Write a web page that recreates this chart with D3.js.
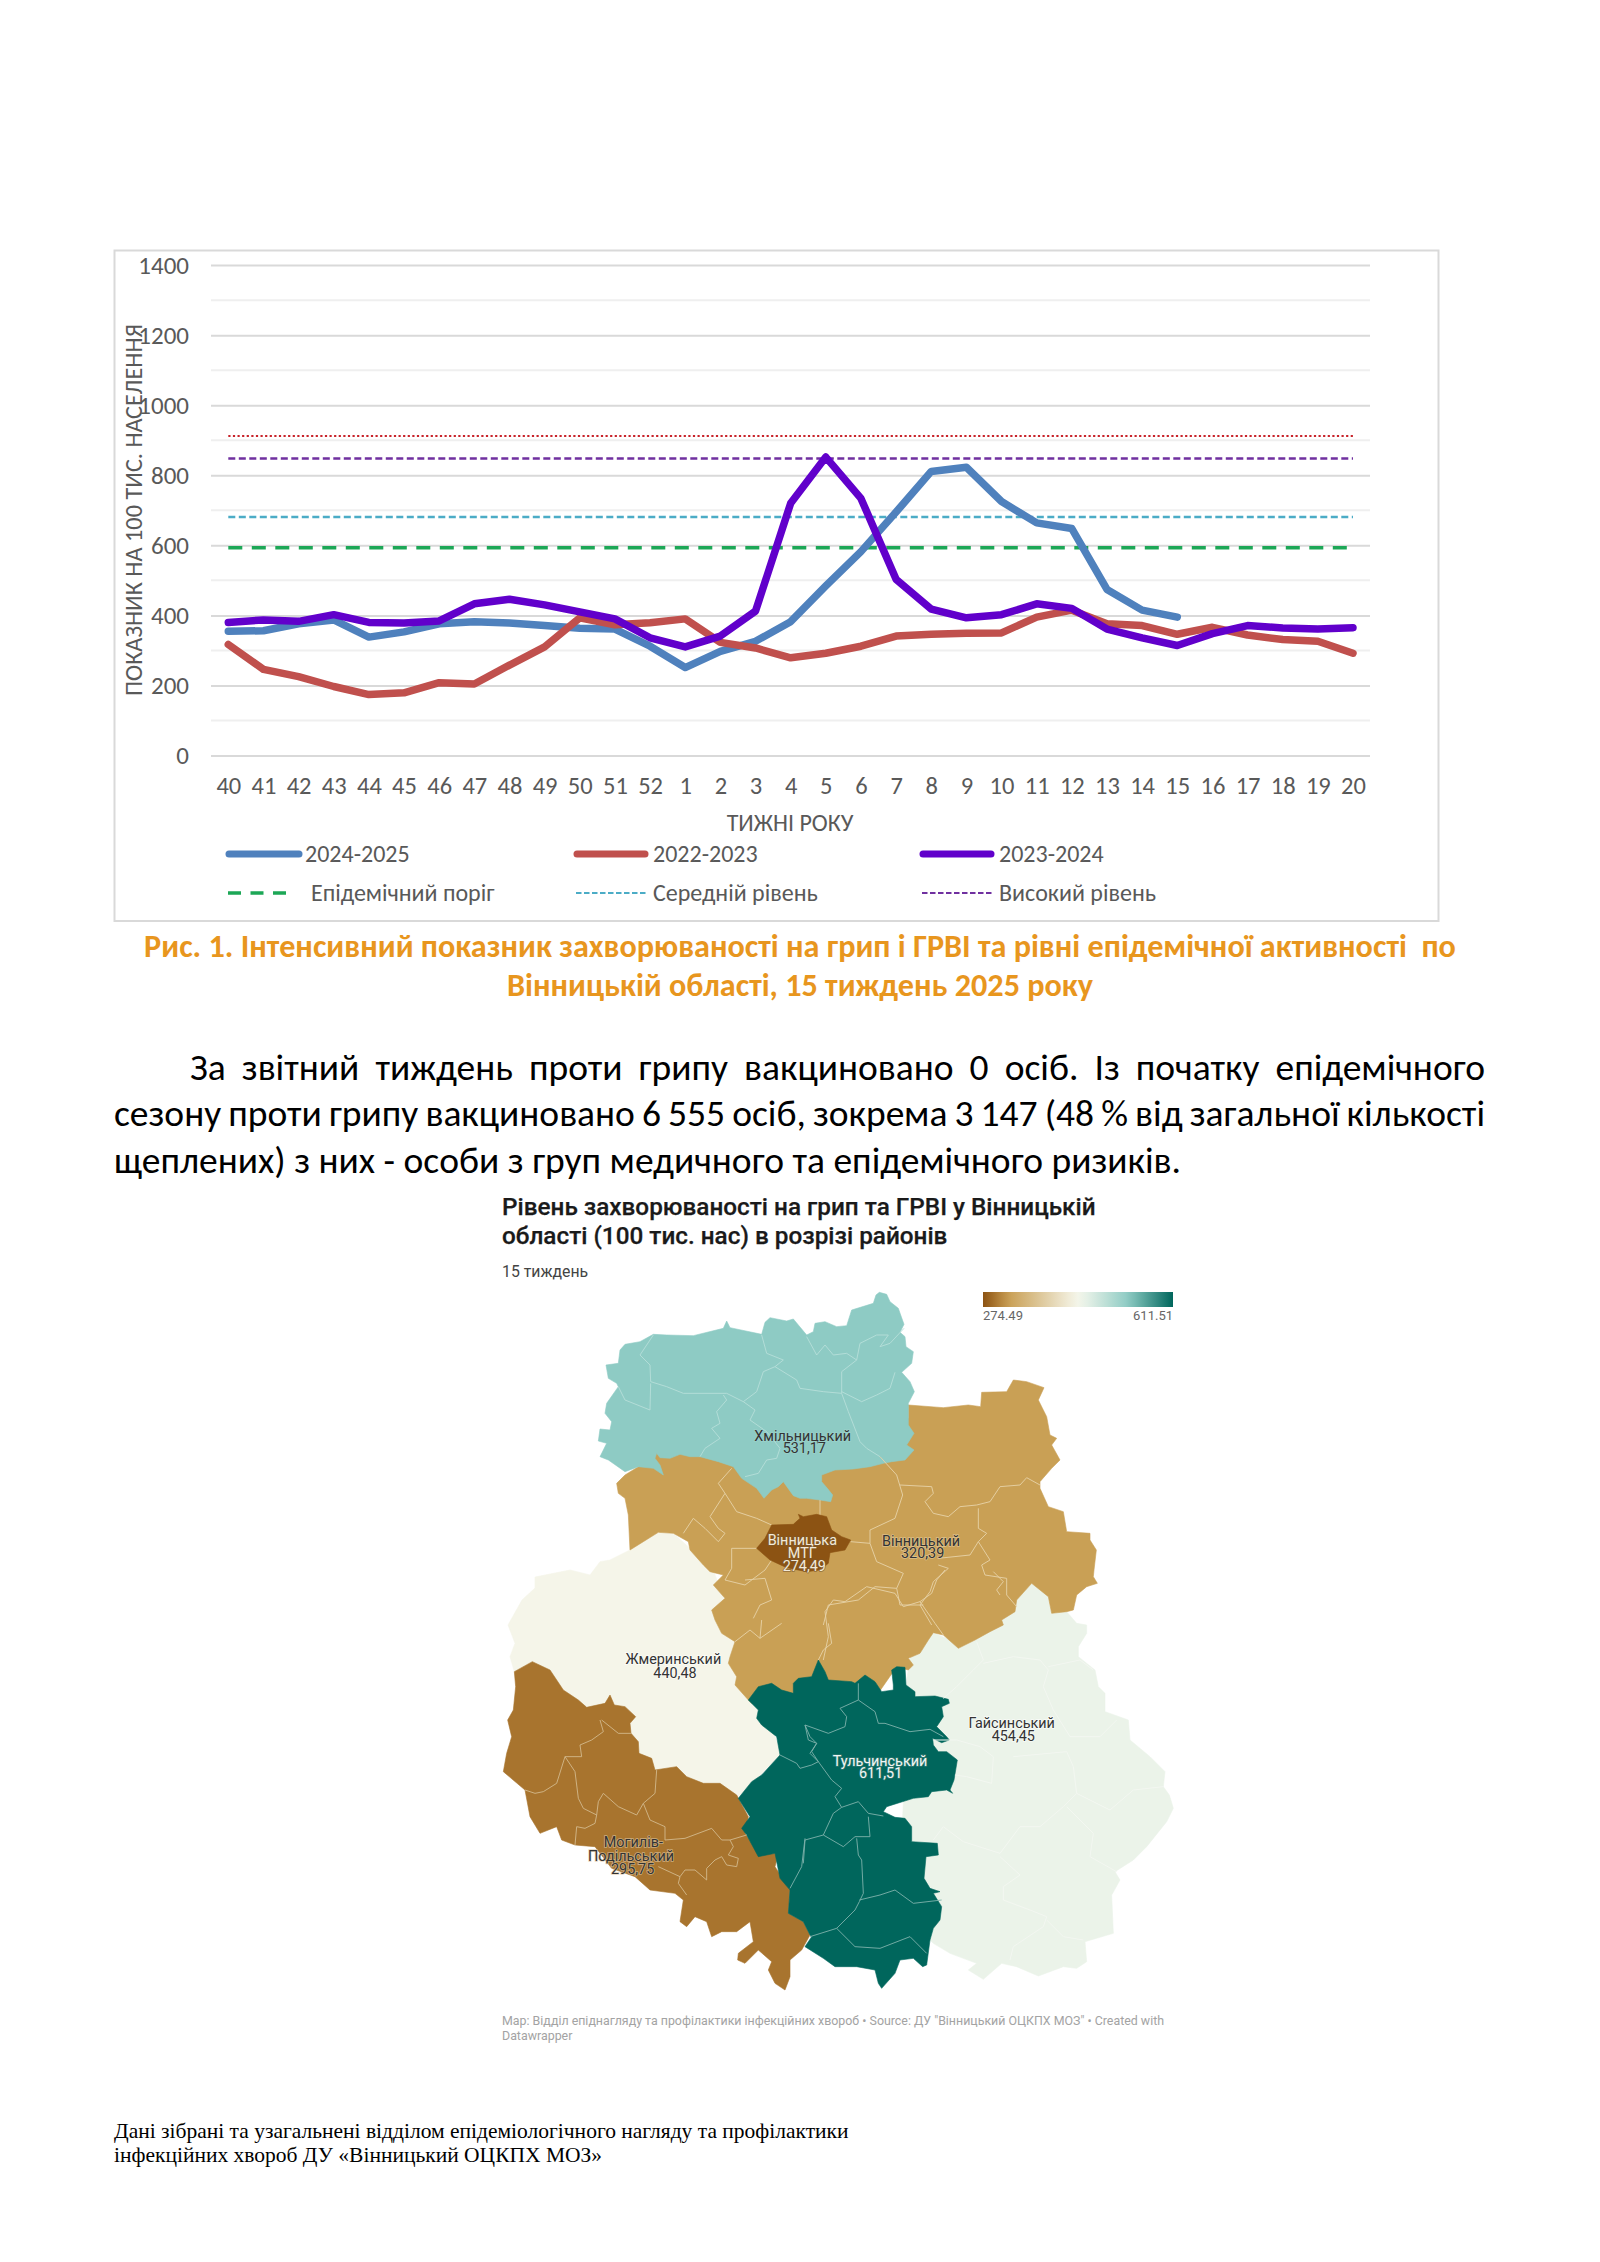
<!DOCTYPE html>
<html><head><meta charset="utf-8">
<script src="https://cdn.jsdelivr.net/npm/d3@7"></script>
<style>
html,body{margin:0;padding:0;background:#fff}
svg{display:block}
</style></head><body>
<svg id="page" width="1600" height="2262" xmlns="http://www.w3.org/2000/svg"></svg>
<script>
// ---------- line chart data ----------
const weeks = ["40","41","42","43","44","45","46","47","48","49","50","51","52","1","2","3","4","5","6","7","8","9","10","11","12","13","14","15","16","17","18","19","20"];
const s2024 = [355,356,376,387,338,353,376,382,378,371,363,361,312,251,297,326,382,484,582,695,811,823,725,664,648,474,415,395];
const s2022 = [317,246,225,197,174,179,208,204,258,310,393,373,379,390,323,307,279,292,312,341,346,349,350,395,415,376,371,346,366,344,331,326,292];
const s2023 = [380,387,383,402,380,378,384,433,446,430,410,390,336,310,341,412,720,852,734,503,418,393,402,433,420,361,336,314,348,371,364,361,365];
const levelEpidemic = 593, levelMedium = 681, levelHigh = 848, levelVeryHigh = 912;
const yTicks = [0,200,400,600,800,1000,1200,1400];
const yMinor = [100,300,500,700,900,1100,1300];
const seriesNames = ["2024-2025","2022-2023","2023-2024"];
const levelNames = ["Епідемічний поріг","Середній рівень","Високий рівень"];

// ---------- map data: values and outlines traced in three overlapping sheets, all in map units ----------
const A = p => p.map(([a,b])=>[a+300,b+15]);
const B = p => p.map(([a,b])=>[a+15,b+1020]);
const C = p => p.map(([a,b])=>[a+930,b+870]);
const districtValues = {khm:531.17, mtg:274.49, vin:320.39, zhm:440.48, hai:454.45, tul:611.51, mog:295.75};
const colorStops = [[274.49,"#8c5313"],[295.75,"#a8742e"],[320.39,"#c9a055"],[440.48,"#f5f5e9"],[454.45,"#ebf3e9"],[531.17,"#8ecbc4"],[611.51,"#00665c"]];

const ringKhm = A([[868,22],[890,28],[900,50],[925,70],[932,90],[942,118],[930,142],[945,155],[948,185],[970,200],[965,235],[935,262],[960,290],[973,320],[955,355],[955,420],[972,445],[950,480],[972,495],[945,525],[905,530],[880,535],[840,545],[790,552],[735,555],[695,570],[695,590],[712,610],[728,630],[722,650],[690,645],[650,640],[630,640],[610,632],[580,590],[565,605],[545,615],[522,640],[500,610],[455,580],[430,545],[385,530],[330,515],[300,515],[270,508],[240,520],[210,518],[200,505],[195,520],[210,540],[220,570],[190,550],[145,545],[105,560],[55,525],[30,515],[50,475],[25,468],[30,432],[60,435],[65,410],[45,385],[50,355],[85,305],[80,295],[55,280],[48,240],[85,235],[90,195],[105,178],[150,170],[190,148],[230,150],[310,152],[400,130],[410,108],[420,128],[515,148],[525,112],[540,98],[590,108],[610,102],[650,150],[670,140],[675,115],[705,110],[740,125],[770,122],[785,75],[850,55],[858,30]]);
const ringMtg = A([[625,688],[640,695],[680,688],[710,695],[725,735],[755,755],[782,765],[765,795],[720,803],[715,835],[690,855],[650,860],[590,848],[540,825],[500,790],[525,760],[545,720],[610,718],[630,700]]);
const ringVin = [].concat(
  A([[955,360],[1060,368],[1135,360],[1172,365],[1175,322],[1250,320],[1270,285],[1310,290],[1362,308],[1345,345],[1370,395],[1380,450],[1400,460],[1385,480],[1410,525],[1385,550],[1350,590],[1350,610],[1375,665],[1420,680],[1430,740],[1500,745]]),
  C([[870,-90],[889,-60],[882,0],[880,20],[892,40],[860,50],[830,75],[820,120],[800,125],[755,130],[745,80],[720,60],[695,40],[650,90],[645,125],[605,150],[610,165],[570,185],[525,210],[475,235],[430,195],[400,188],[385,210],[360,250],[325,265],[340,285],[325,300],[290,290],[200,420],[60,420]]),
  B([[770,250],[760,240],[720,195],[725,170],[700,130],[705,110],[720,65],[680,40],[660,0]]),
  A([[365,975],[405,940],[370,900],[400,870],[360,860],[340,840],[300,795],[295,770],[250,745],[205,742],[160,770],[120,795],[115,690],[105,640],[85,625],[80,595],[105,570],[145,545],[200,500],[955,400]])
);
const ringHai = C([[400,188],[450,210],[520,200],[600,130],[650,90],[695,40],[720,50],[745,80],[755,130],[800,125],[830,160],[860,165],[860,190],[835,230],[835,260],[885,300],[895,350],[915,370],[915,425],[985,450],[990,510],[1050,560],[1095,605],[1090,650],[1108,675],[1120,715],[1100,755],[1040,830],[1000,870],[945,905],[960,930],[935,975],[940,1090],[855,1115],[860,1175],[830,1195],[790,1190],[715,1218],[650,1190],[605,1180],[550,1228],[505,1200],[530,1180],[450,1150],[400,1120],[380,1100],[300,900],[320,500],[320,330],[330,265]]);
const ringZhm = [].concat(
  B([[58,155],[45,110],[60,70],[39,15],[81,-60],[120,-96],[120,-129],[225,-150],[285,-135]]),
  A([[30,830],[60,825],[120,795],[160,770],[205,742],[250,745],[300,790],[350,800]]),
  B([[800,250],[860,400],[730,530],[480,450],[112,125]])
);
const ringMog = B([[58,155],[112,125],[165,150],[205,210],[250,240],[275,262],[330,250],[345,225],[358,255],[390,260],[422,290],[405,310],[408,340],[430,365],[432,400],[470,415],[480,450],[545,440],[575,470],[625,490],[675,490],[725,525],[760,590],[750,640],[790,700],[850,700],[840,740],[885,810],[880,880],[925,905],[945,945],[920,990],[885,1020],[885,1070],[870,1110],[840,1090],[820,1050],[830,1025],[790,990],[750,1030],[728,1020],[730,1000],[775,965],[765,905],[725,935],[680,935],[650,950],[635,905],[600,890],[575,920],[555,905],[565,840],[540,820],[465,810],[420,770],[350,745],[300,680],[240,675],[200,660],[185,620],[135,640],[105,590],[90,510],[25,455],[35,400],[50,350],[38,300],[55,270],[62,200]]);
const ringTul = [].concat(
  B([[760,240],[790,200],[830,190],[860,210],[895,220],[895,190],[910,175],[950,170],[970,120],[990,155],[1000,180],[1070,185],[1080,190],[1110,165],[1140,185],[1160,215],[1195,210]]),
  C([[280,345],[275,300],[290,290],[315,292],[318,345],[345,365],[345,380],[405,378],[445,388],[448,400],[425,410],[430,440],[410,470],[440,500],[448,510],[425,518],[398,505],[400,525],[415,545],[440,545],[472,570],[462,630],[450,660],[458,670],[440,660],[395,665],[385,680],[340,685],[260,710],[250,725],[285,742],[315,745],[335,770],[335,815],[412,820],[415,855],[378,860],[372,925],[390,955],[420,965],[400,970],[425,1010],[420,1050],[400,1075],[390,1110],[380,1185],[368,1190],[340,1165],[300,1170],[285,1210],[245,1255],[235,1240],[225,1200],[170,1190],[105,1190],[70,1165],[15,1130],[35,1100]]),
  B([[945,945],[925,905],[880,880],[885,810],[855,775],[840,700],[790,710],[755,645],[740,625],[765,590],[730,535],[770,485],[800,465],[855,405],[845,350],[800,315],[785,295],[790,270]])
);
// internal community borders
const linesKhm = [
 [[190,150],[150,210],[180,240],[182,290],[230,305],[280,325],[330,325],[410,325],[460,350],[500,320],[520,260],[555,245],[620,285],[630,310],[700,320],[755,325],[755,260],[800,225],[810,175],[860,150],[895,150],[870,185],[900,175],[942,130]],
 [[515,150],[530,205],[580,225],[555,245]],
 [[182,295],[180,375],[105,345],[85,305]],
 [[400,330],[410,345],[380,380],[390,415],[365,430],[390,460],[345,490],[330,515]],
 [[460,350],[495,375],[480,405],[530,440],[570,490],[560,520],[530,525],[505,565],[465,575]],
 [[755,325],[775,380],[810,470],[830,490],[870,515]],
 [[755,320],[815,350],[860,330],[900,310],[915,262]],
 [[800,225],[770,205],[730,210],[705,180],[680,210],[650,155]]
].map(A);
const linesVin = [
 A([[425,550],[385,595],[405,625],[360,695],[385,730],[405,745],[385,770],[345,730],[310,700],[280,745]]),
 A([[405,625],[440,680],[500,700],[545,720]]),
 A([[500,790],[425,790],[425,850],[405,885],[465,900],[525,855],[545,825]]),
 A([[465,885],[525,880],[545,945],[510,960],[490,1000]]),
 A([[690,645],[690,690]]),
 A([[782,770],[840,775],[860,830],[940,865],[920,910],[855,905],[805,945],[715,960],[700,1020]]),
 A([[870,515],[920,570],[938,630],[915,700],[840,735],[840,775]]),
 A([[930,600],[1025,605],[1030,625],[1005,650],[1030,685],[1075,695],[1110,665],[1160,660],[1200,650],[1230,605],[1290,600],[1310,578],[1350,600]]),
 A([[1165,670],[1165,730],[1190,745],[1165,770],[1140,810],[1045,820]]),
 A([[1165,770],[1200,825],[1175,840],[1185,870],[1250,880],[1250,930],[1280,965]]),
 A([[1045,840],[1075,850],[1030,890],[1020,920],[990,960],[1025,1020]]),
 A([[920,910],[930,960],[1000,960]]),
 B([[800,0],[795,55],[860,10]]),
 B([[795,55],[765,30],[720,65]]),
 B([[1000,10],[1010,70],[985,90],[970,120]]),
 C([[75,125],[100,90],[135,95],[200,50],[285,70],[310,110],[360,95],[405,160],[430,195]]),
 C([[75,125],[85,200],[70,270]]),
 C([[360,95],[395,70],[410,30],[435,0]]),
 C([[600,75],[590,60],[610,35],[580,5]])
];
const linesMog = [
 [[315,300],[325,335],[290,360],[255,375],[260,410],[210,410],[185,490],[145,515],[120,520],[90,510]],
 [[210,410],[240,455],[250,535],[265,565],[305,585],[300,610],[270,625],[245,620],[240,675]],
 [[305,585],[310,545],[325,520],[370,560],[425,585],[445,550],[480,520],[485,450]],
 [[445,550],[465,600],[510,620],[510,660],[570,655],[650,625],[680,660],[705,660],[755,645]],
 [[705,660],[715,680],[700,705],[730,715],[725,740],[695,735],[680,710],[660,720],[635,745],[635,780],[600,750],[570,750],[555,770],[490,740]],
 [[555,770],[550,790],[575,825]],
 [[320,300],[345,320],[370,340],[408,340]]
].map(B);
const linesTul = [
 B([[855,405],[905,430],[915,445],[950,435],[970,425],[945,400],[965,370],[945,350],[930,315],[1000,340],[1050,320],[1055,290],[1035,265],[1090,240],[1090,190]]),
 C([[175,390],[225,425],[235,460],[255,460],[330,485],[390,478],[430,500]]),
 C([[15,465],[25,510],[50,520],[35,545],[55,575],[95,630],[125,655],[105,680],[125,712],[175,695],[205,730],[250,738]]),
 C([[125,712],[100,730],[70,795],[130,830],[165,800],[210,800],[205,740]]),
 C([[70,795],[15,810],[10,880]]),
 B([[930,655],[920,740],[885,805]]),
 C([[170,805],[175,855],[185,870],[190,970],[178,995],[165,1020],[110,1075],[30,1100]]),
 C([[178,990],[240,975],[285,960],[340,1000],[425,990]]),
 C([[110,1075],[165,1130],[240,1135],[330,1100],[380,1150]])
];
const linesHai = [
 [[530,215],[550,270],[520,300],[470,350],[430,385]],
 [[550,280],[640,260],[720,270],[745,300],[730,350],[760,420],[810,500]],
 [[745,290],[840,270],[880,300]],
 [[400,510],[470,510],[540,530],[580,560],[575,640],[500,620],[465,615]],
 [[640,560],[800,545],[820,590],[830,670],[790,710],[720,770],[660,770],[600,850],[490,815],[430,770],[400,810]],
 [[830,670],[930,720],[1000,660],[1090,650]],
 [[810,500],[900,500],[950,450]],
 [[800,710],[880,790],[870,860],[950,905]],
 [[600,860],[660,915],[610,950],[610,990],[690,1020],[740,1040],[730,1070],[640,1130],[630,1170]],
 [[740,1050],[790,1100],[850,1110]]
].map(C);
const mapLabelRows = [
 {lines:["Хмільницький","531,17"], at:A([[638,452],[643,490]]), fill:"#333", halo:"#9ed3cc"},
 {lines:["Вінницька","МТГ","274,49"], at:A([[637,765],[637,803],[643,843]]), fill:"#f3ead8", halo:"#7a5a32"},
 {lines:["Вінницький","320,39"], at:A([[993,767],[998,805]]), fill:"#333", halo:"#e2cba0"},
 {lines:["Жмеринський","440,48"], at:B([[535,118],[540,158]]), fill:"#333", halo:"#ffffff"},
 {lines:["Гайсинський","454,45"], at:C([[635,458],[640,497]]), fill:"#333", halo:"#ffffff"},
 {lines:["Тульчинський","611,51"], at:C([[240,572],[242,610]]), fill:"#f0f5f3", halo:"#3e7f78"},
 {lines:["Могилів-","Подільський","295,75"], at:B([[415,667],[408,708],[413,747]]), fill:"#333", halo:"#dcc6a4"}
];

// ---------- texts ----------
const paragraph = [
 "За звітний тиждень проти грипу вакциновано 0 осіб. Із початку епідемічного",
 "сезону проти грипу вакциновано 6 555 осіб, зокрема 3 147 (48 % від загальної кількості",
 "щеплених) з них - особи з груп медичного та епідемічного ризиків."
];
const caption = ["Рис. 1. Інтенсивний показник захворюваності на грип і ГРВІ та рівні епідемічної активності  по","Вінницькій області, 15 тиждень 2025 року"];
const mapTitle = ["Рівень захворюваності на грип та ГРВІ у Вінницькій","області (100 тис. нас) в розрізі районів"];
const mapSub = "15 тиждень";
const mapFoot = ["Map: Відділ епіднагляду та профілактики інфекційних хвороб • Source: ДУ \"Вінницький ОЦКПХ МОЗ\" • Created with","Datawrapper"];
const pageFoot = ["Дані зібрані та узагальнені відділом епідеміологічного нагляду та профілактики","інфекційних хвороб ДУ «Вінницький ОЦКПХ МОЗ»"];

// ---------- drawing ----------
const svg = d3.select("#page");
const CAL = "Carlito, Lato, 'Open Sans', sans-serif";
const ROB = "Roboto, sans-serif";
svg.append("rect").attr("width",1600).attr("height",2262).attr("fill","#fff");
svg.append("rect").attr("x",114.5).attr("y",250.5).attr("width",1324).attr("height",670.5).attr("fill","#fff").attr("stroke","#d9d9d9").attr("stroke-width",2);

const x = d3.scalePoint().domain(weeks).range([228.3,1353]);
const y = d3.scaleLinear().domain([0,1400]).range([755.5,265.1]);
const gx0 = 211, gx1 = 1370;

svg.append("g").selectAll("line").data(yMinor).join("line")
  .attr("x1",gx0).attr("x2",gx1).attr("y1",d=>y(d)).attr("y2",d=>y(d)).attr("stroke","#efefef").attr("stroke-width",2);
const yAxis = d3.axisLeft(y).tickValues(yTicks).tickFormat(d3.format("d")).tickSize(gx0-gx1).tickPadding(0);
const gy = svg.append("g").attr("transform",`translate(${gx0},0)`).call(yAxis);
gy.select(".domain").remove();
gy.selectAll(".tick line").attr("x1",0).attr("x2",gx1-gx0).attr("stroke","#d9d9d9").attr("stroke-width",2);
gy.selectAll(".tick text").attr("x",-22).attr("font-family",CAL).attr("font-size",25).attr("fill","#595959");

const xAxis = d3.axisBottom(x).tickSize(0).tickPadding(0);
const gxa = svg.append("g").attr("transform","translate(0,777)").call(xAxis);
gxa.select(".domain").remove();
gxa.selectAll(".tick text").attr("font-family",CAL).attr("font-size",24.5).attr("fill","#595959").attr("dy","0.71em").attr("y",0);

const line = d3.line().x((d,i)=>x(weeks[i])).y(d=>y(d));
const level = d3.line().x(d=>x(d[0])).y(d=>y(d[1]));
const ends = [weeks[0],weeks[weeks.length-1]];
function lvl(v,color,w,dash){svg.append("path").attr("d",level(ends.map(e=>[e,v]))).attr("fill","none").attr("stroke",color).attr("stroke-width",w).attr("stroke-dasharray",dash);}
lvl(levelVeryHigh,"#c8242b",2,"2.2 2.4");
lvl(levelHigh,"#7030a0",2.5,"7 3.5");
lvl(levelMedium,"#4bacc6",2.5,"7 3.5");
lvl(levelEpidemic,"#1ca756",3.5,"14 9.5");
const seriesCol = ["#4f81bd","#c0504d","#6100cb"];
[[s2024,0],[s2022,1],[s2023,2]].forEach(([s,i])=>{
  svg.append("path").attr("d",line(s)).attr("fill","none").attr("stroke",seriesCol[i]).attr("stroke-width",7.5).attr("stroke-linecap","round").attr("stroke-linejoin","round");
});

svg.append("text").attr("transform","translate(142,510) rotate(-90)").attr("text-anchor","middle").attr("font-family",CAL).attr("font-size",24.3).attr("fill","#595959").text("ПОКАЗНИК НА 100 ТИС. НАСЕЛЕННЯ");
svg.append("text").attr("x",790).attr("y",831).attr("text-anchor","middle").attr("font-family",CAL).attr("font-size",24).attr("fill","#595959").text("ТИЖНІ РОКУ");

// legend
const legendX = [[226,302,305],[574,648,653],[920,994,999]];
seriesNames.forEach((n,i)=>{
  const [a,b,t]=legendX[i];
  svg.append("line").attr("x1",a+3).attr("x2",b-3).attr("y1",854).attr("y2",854).attr("stroke",seriesCol[i]).attr("stroke-width",7).attr("stroke-linecap","round");
  svg.append("text").attr("x",t).attr("y",862).attr("font-family",CAL).attr("font-size",24).attr("fill","#595959").text(n);
});
const lev2 = [[228,289,311,"#1ca756",3.5,"13 9.5"],[576,646,653,"#4bacc6",2.2,"5.5 2.5"],[922,994,999,"#7030a0",2.2,"5.5 2.5"]];
levelNames.forEach((n,i)=>{
  const [a,b,t,c,w,da]=lev2[i];
  svg.append("line").attr("x1",a).attr("x2",b).attr("y1",893).attr("y2",893).attr("stroke",c).attr("stroke-width",w).attr("stroke-dasharray",da);
  svg.append("text").attr("x",t).attr("y",900.5).attr("font-family",CAL).attr("font-size",24).attr("fill","#595959").text(n);
});

// caption
caption.forEach((t,i)=>svg.append("text").attr("x",800).attr("y",[957,996][i]).attr("text-anchor","middle").attr("font-family",CAL).attr("font-weight",700).attr("font-size",32.2).attr("fill","#e8961e").style("white-space","pre").text(t));

// paragraph: the font size is set so the unjustified last line has its natural width; the others are justified
const probe = svg.append("text").attr("font-family",CAL).attr("font-size",32).text(paragraph[2]);
const paraSize = 32*(1181-114)/probe.node().getComputedTextLength();
probe.remove();
function fitted(t,xs,xe,yb){
  const el = svg.append("text").attr("x",xs).attr("y",yb).attr("font-family",CAL).attr("font-size",paraSize).attr("fill","#000").text(t);
  const spaces = t.split(" ").length-1;
  const w = el.node().getComputedTextLength();
  el.attr("word-spacing",(xe-xs-w)/spaces);
}
fitted(paragraph[0],190,1485,1080);
fitted(paragraph[1],114,1485,1126);
fitted(paragraph[2],114,1181,1173);

// ---------- map ----------
const mx = d3.scaleLinear().domain([0,2100]).range([490,1190]);
const my = d3.scaleLinear().domain([0,2400]).range([1280,2080]);
const colorScale = d3.scaleLinear().domain(colorStops.map(d=>d[0])).range(colorStops.map(d=>d[1]));
const ringPath = d3.line().x(d=>mx(d[0])).y(d=>my(d[1]));
const regions = [[ringHai,"hai"],[ringZhm,"zhm"],[ringVin,"vin"],[ringMog,"mog"],[ringTul,"tul"],[ringKhm,"khm"]];
regions.forEach(([r,k])=>{
  const c=colorScale(districtValues[k]);
  svg.append("path").attr("d",ringPath(r)+"Z").attr("fill",c).attr("stroke",c).attr("stroke-width",.6).attr("stroke-linejoin","round");
});
const inner = (arr,col,w)=>arr.forEach(l=>svg.append("path").attr("d",ringPath(l)).attr("fill","none").attr("stroke",col).attr("stroke-width",w));
inner(linesHai,"#f3f7f1",1);
inner(linesMog,"#d3b98c",.9);
inner(linesTul,"#7fb2ac",.9);
inner(linesKhm,"#b7dfd9",.9);
inner(linesVin,"#e6d2a8",.9);
const mc=colorScale(districtValues.mtg);
svg.append("path").attr("d",ringPath(ringMtg)+"Z").attr("fill",mc).attr("stroke",mc).attr("stroke-width",.6);

mapLabelRows.forEach(l=>l.lines.forEach((t,i)=>{
  svg.append("text").attr("x",mx(l.at[i][0])).attr("y",my(l.at[i][1])).attr("dy","0.35em").attr("text-anchor","middle").attr("font-family",ROB).attr("font-size",14.4).attr("fill",l.fill).attr("paint-order","stroke").attr("stroke",l.halo).attr("stroke-width",1.6).attr("stroke-opacity",.7).text(t);
}));

mapTitle.forEach((t,i)=>svg.append("text").attr("x",502).attr("y",[1214.5,1243.5][i]).attr("font-family",ROB).attr("font-weight",500).attr("font-size",24.3).attr("fill","#1a1a1a").attr("stroke","#1a1a1a").attr("stroke-width",.25).text(t));
svg.append("text").attr("x",502).attr("y",1276.5).attr("font-family",ROB).attr("font-size",15.8).attr("fill","#444").text(mapSub);

// gradient legend
const defs = svg.append("defs");
const gr = defs.append("linearGradient").attr("id","lg");
const legDom = d3.scaleLinear().domain([0,1]).range([274.49,611.51]);
gr.selectAll("stop").data(d3.range(0,1.0001,0.05)).join("stop").attr("offset",d=>d).attr("stop-color",d=>colorScale(legDom(d)));
const legX = d3.scaleLinear().domain([274.49,611.51]).range([983,1173]);
svg.append("rect").attr("x",legX(274.49)).attr("y",1292).attr("width",legX(611.51)-legX(274.49)).attr("height",15).attr("fill","url(#lg)");
svg.append("text").attr("x",legX(274.49)).attr("y",1315).attr("dy","0.35em").attr("font-family",ROB).attr("font-size",13).attr("fill","#666").text("274.49");
svg.append("text").attr("x",legX(611.51)).attr("y",1315).attr("dy","0.35em").attr("text-anchor","end").attr("font-family",ROB).attr("font-size",13).attr("fill","#666").text("611.51");

mapFoot.forEach((t,i)=>svg.append("text").attr("x",502).attr("y",[2021,2036][i]).attr("dy","0.35em").attr("font-family",ROB).attr("font-size",12.4).attr("fill","#a3a3a3").text(t));
pageFoot.forEach((t,i)=>svg.append("text").attr("x",114).attr("y",[2138,2162][i]).attr("font-family","'Liberation Serif',serif").attr("font-size",21.5).attr("fill","#000").text(t));
</script>
</body></html>
